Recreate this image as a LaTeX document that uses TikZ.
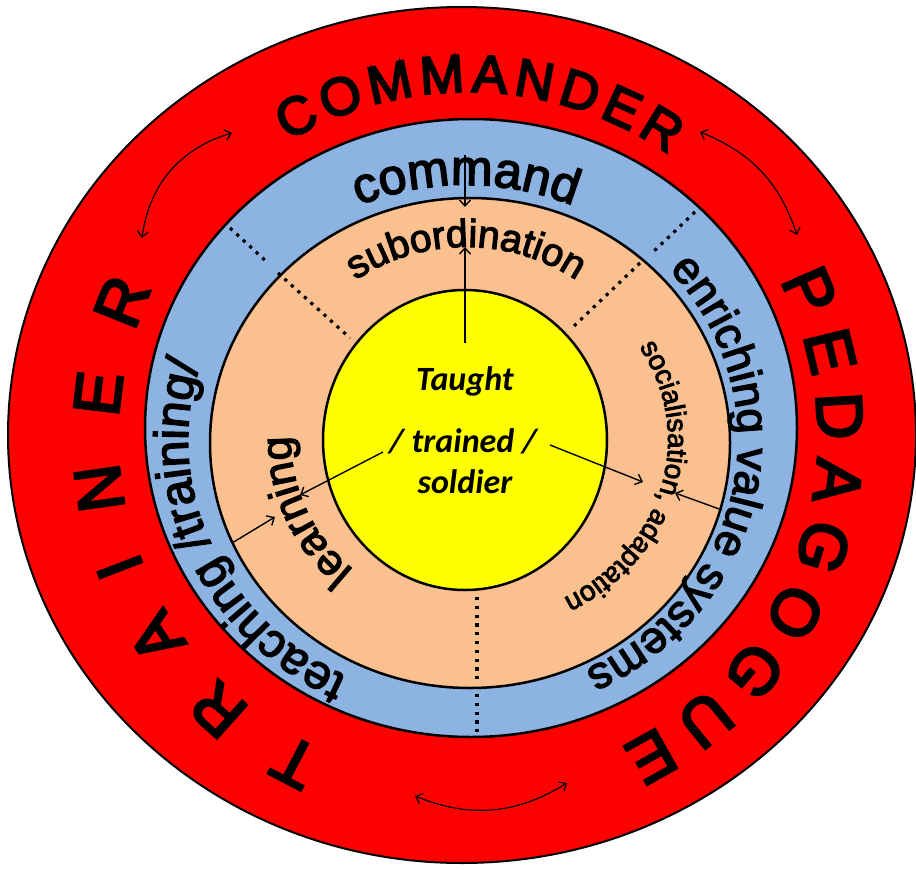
\documentclass[tikz,border=0pt]{standalone}
\usepackage{fontspec}
\setmainfont{Liberation Sans}
\newfontfamily\ringfont[FakeBold=3]{Liberation Sans}
\newfontfamily\capfont[FakeBold=4]{Liberation Sans}
\newfontfamily\corefont{Carlito}
\usetikzlibrary{decorations.text, arrows.meta}

\definecolor{ringred}{HTML}{FF0000}
\definecolor{ringblue}{HTML}{8DB3E2}
\definecolor{ringpeach}{HTML}{FAC090}
\definecolor{coreyellow}{HTML}{FFFF00}

\newcommand\fcmd{\ringfont\fontsize{50pt}{50pt}\selectfont}
\newcommand\fsub{\ringfont\fontsize{39pt}{39pt}\selectfont}
\newcommand\fblue{\ringfont\fontsize{45pt}{45pt}\selectfont}
\newcommand\fteach{\ringfont\fontsize{48pt}{48pt}\selectfont}
\newcommand\flearn{\ringfont\fontsize{43pt}{43pt}\selectfont}
\newcommand\fsoc{\ringfont\fontsize{28pt}{28pt}\selectfont}
\newcommand\fcapA{\capfont\fontsize{53pt}{53pt}\selectfont}
\newcommand\fcapB{\capfont\fontsize{65pt}{65pt}\selectfont}
\newcommand\fcore{\corefont\bfseries\itshape\fontsize{34pt}{34pt}\selectfont}

\begin{document}
\begin{tikzpicture}[x=1pt,y=1pt,
  ringline/.style={draw=black, line width=2.5pt},
  dotline/.style={line width=3.2pt, dash pattern=on 3.2pt off 5.6pt},
  arr/.style={line width=1.4pt, -{Straight Barb[length=6pt,width=11pt]}},
  darr/.style={line width=1.2pt, {Straight Barb[length=6pt,width=11pt]}-{Straight Barb[length=6pt,width=11pt]}},
  arctext/.style={decorate, decoration={text along path, text align=center, text={#1}}},
  fittext/.style={decorate, decoration={text along path, text align=fit to path, text={#1}}},
  coretext/.style={font=\fcore, anchor=base, inner sep=0pt}
]
\useasboundingbox (0,0) rectangle (916,-870);
\fill[white] (0,0) rectangle (916,-870);

% rings
\draw[ringline, line width=2pt, fill=ringred] (462,-435) ellipse [x radius=454pt, y radius=428pt];
\draw[ringline, fill=ringblue] (471,-428) ellipse [x radius=326pt, y radius=309pt];
\draw[ringline, fill=ringpeach] (470,-443) ellipse [x radius=260pt, y radius=245pt];
\draw[ringline, fill=coreyellow] (465,-440) ellipse [x radius=142pt, y radius=150pt];

% dotted separators
\draw[dotline] (230,-228) -- (268,-263);
\draw[dotline] (278,-273) -- (350,-338);
\draw[dotline] (695,-212) -- (652,-253);
\draw[dotline] (640,-263) -- (573,-327);
\draw[dotline] (477,-597) -- (477,-683);
\draw[dotline] (477,-694) -- (477,-733);

% red ring texts
\path[fittext={|\fcapA|COMMANDER}] (468,-437) ++(121:350pt and 345pt)
  arc[start angle=121, end angle=55, x radius=350pt, y radius=345pt];
\path[fittext={|\fcapB|PEDAGOGUE}] (468,-437) ++(27:350pt and 345pt)
  arc[start angle=27, end angle=-64, x radius=350pt, y radius=345pt];
\path[fittext={|\fcapB|TRAINER}] (468,-437) ++(245.5:350pt and 345pt)
  arc[start angle=245.5, end angle=154.5, x radius=350pt, y radius=345pt];

% blue ring texts
\path[arctext={|\fcmd|command}] (466,-475) ++(170:290pt)
  arc[start angle=170, end angle=10, radius=290pt];
\path[arctext={|\fblue|enriching value systems}] (468,-440) ++(80:270pt and 255pt)
  arc[start angle=80, end angle=-102, x radius=270pt, y radius=255pt];
\path[arctext={|\fteach|teaching /training/}] (468,-440) ++(290:280pt and 262pt)
  arc[start angle=290, end angle=116, x radius=280pt, y radius=262pt];

% peach ring texts
\path[arctext={|\fsub|subordination}] (466,-447) ++(170:200pt)
  arc[start angle=170, end angle=10, radius=200pt];
\path[arctext={|\flearn|learning}] (468,-440) ++(290:177pt and 170pt)
  arc[start angle=290, end angle=117, x radius=177pt, y radius=170pt];
\path[arctext={|\fsoc|socialisation, adaptation}] (468,-440) ++(75:200pt and 180pt)
  arc[start angle=75, end angle=-104, x radius=200pt, y radius=180pt];

% core texts
\node[coretext] (t1) at (465,-390) {Taught};
\node[coretext] (t2) at (463,-452) {/ trained /};
\node[coretext] (t3) at (465,-493) {soldier};

% arrow end points
\coordinate (a1s) at (465,-343); \coordinate (a1e) at (465,-247);
\coordinate (a2s) at (465,-155); \coordinate (a2e) at (465,-207);
\coordinate (a3s) at (383,-452); \coordinate (a3e) at (300,-495);
\coordinate (a4s) at (232,-543); \coordinate (a4e) at (275,-517);
\coordinate (a5s) at (550,-445); \coordinate (a5e) at (643,-482);
\coordinate (a6s) at (722,-510); \coordinate (a6e) at (675,-493);
\coordinate (c1a) at (142,-238); \coordinate (c1b) at (232,-133);
\coordinate (c2a) at (700,-132); \coordinate (c2b) at (797,-235);
\coordinate (c3a) at (415,-796); \coordinate (c3b) at (567,-783);

\draw[arr] (a1s) -- (a1e);
\draw[arr] (a2s) -- (a2e);
\draw[arr] (a3s) -- (a3e);
\draw[arr] (a4s) -- (a4e);
\draw[arr] (a5s) -- (a5e);
\draw[arr] (a6s) -- (a6e);
\draw[darr] (c1a) to[bend left=33] (c1b);
\draw[darr] (c2a) to[bend left=25] (c2b);
\draw[darr] (c3a) to[bend right=27] (c3b);
\end{tikzpicture}
\end{document}
